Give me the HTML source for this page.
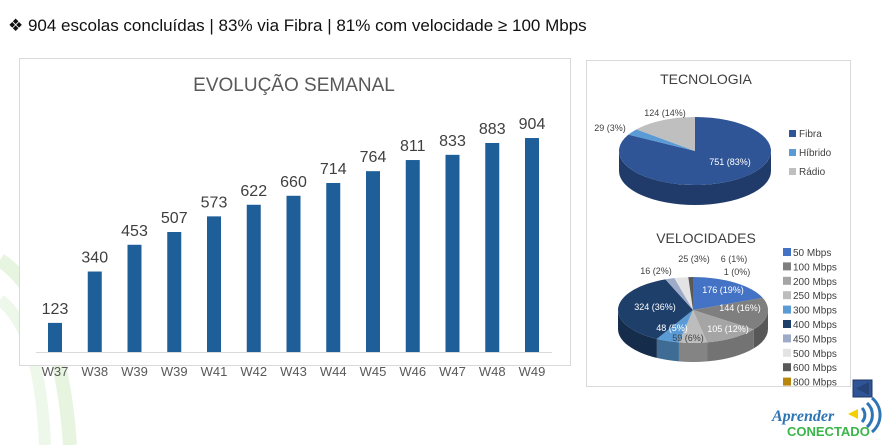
<!DOCTYPE html>
<html><head><meta charset="utf-8"><style>
body{margin:0;width:887px;height:445px;background:#fff;overflow:hidden;font-family:"Liberation Sans",sans-serif;position:relative}
.t{position:absolute;left:8px;top:16px;font-size:17px;color:#111}
</style></head><body>
<div class="t">❖ 904 escolas concluídas | 83% via Fibra | 81% com velocidade ≥ 100 Mbps</div>
<svg id="s" width="887" height="445" style="position:absolute;left:0;top:0" font-family="Liberation Sans, sans-serif">
<path d="M0 260 Q60 300 70 445" stroke="#e6f4e0" stroke-width="14" fill="none"/>
<path d="M0 300 Q40 330 45 445" stroke="#eef8ea" stroke-width="12" fill="none"/>
<rect x="19.5" y="58.5" width="551" height="307" fill="#fff" stroke="#d9d9d9"/>
<text x="294" y="91" font-size="19" fill="#595959" text-anchor="middle">EVOLUÇÃO SEMANAL</text>
<line x1="36" y1="352.5" x2="552" y2="352.5" stroke="#d9d9d9"/>
<rect x="586.5" y="60.5" width="264" height="326" fill="#fff" stroke="#d9d9d9"/>
<text x="706" y="84" font-size="14" fill="#404040" text-anchor="middle">TECNOLOGIA</text>
<text x="706" y="243" font-size="14" fill="#404040" text-anchor="middle">VELOCIDADES</text>
<g id="g"></g>
<rect x="853" y="380" width="19" height="17" fill="#2f5597" stroke="#1f3864"/>
<path d="M856 388.5 L869 382 L869 395 Z" fill="#264478"/>
<text x="772" y="421" font-size="16" font-style="italic" font-weight="bold" fill="#2e75b6" font-family="Liberation Serif, serif">Aprender</text>
<text x="787" y="436" font-size="13" font-weight="bold" fill="#3bb54a">CONECTADO</text>
<path d="M848 414 l10 -5 v10 z" fill="#f5d000"/>
<path d="M862 408 a10 10 0 0 1 0 14 M867 403 a16 16 0 0 1 0 24 M872 398 a22 22 0 0 1 0 34" stroke="#2e75b6" stroke-width="3" fill="none"/>
</svg>
<script>
var g=document.getElementById('g'),h='';
var labs=['W37','W38','W39','W39','W41','W42','W43','W44','W45','W46','W47','W48','W49'];
var v=[123,340,453,507,573,622,660,714,764,811,833,883,904];
for(var i=0;i<13;i++){var cx=55+i*39.75,hh=v[i]*0.2367;
h+='<rect x="'+(cx-7)+'" y="'+(352-hh)+'" width="14" height="'+hh+'" fill="#1f5f99"/>';
h+='<text x="'+cx+'" y="'+(352-hh-9)+'" font-size="16" fill="#404040" text-anchor="middle">'+v[i]+'</text>';
h+='<text x="'+cx+'" y="376" font-size="13" fill="#595959" text-anchor="middle">'+labs[i]+'</text>';}
function P(cx,cy,rx,ry,a){a=a*Math.PI/180;return [cx+rx*Math.sin(a),cy-ry*Math.cos(a)];}
function dk(c,f){var n=parseInt(c.slice(1),16);var r=(n>>16)*f|0,gg=((n>>8)&255)*f|0,b=(n&255)*f|0;return 'rgb('+r+','+gg+','+b+')';}
function pie(cx,cy,rx,ry,d,sl){var a=0,arr=[];sl.forEach(function(s){arr.push([a,a+s[0]*3.6,s[1]]);a+=s[0]*3.6;});
arr.forEach(function(s){var a1=Math.max(s[0],90),a2=Math.min(s[1],270);if(a2<=a1)return;
var p1=P(cx,cy,rx,ry,a1),p2=P(cx,cy,rx,ry,a2);
h+='<path d="M'+p1+' A'+rx+' '+ry+' 0 0 1 '+p2+' L'+p2[0]+' '+(p2[1]+d)+' A'+rx+' '+ry+' 0 0 0 '+p1[0]+' '+(p1[1]+d)+' Z" fill="'+dk(s[2],0.7)+'"/>';});
arr.forEach(function(s){var p1=P(cx,cy,rx,ry,s[0]),p2=P(cx,cy,rx,ry,s[1]);var lg=(s[1]-s[0])>180?1:0;
h+='<path d="M'+cx+' '+cy+' L'+p1+' A'+rx+' '+ry+' 0 '+lg+' 1 '+p2+' Z" fill="'+s[2]+'"/>';});}
pie(695,151,76,34,20,[[83,'#2f5597'],[3,'#5b9bd5'],[14,'#bfbfbf']]);
pie(693,310,75,33,19,[[19,'#4472c4'],[16,'#7f7f7f'],[12,'#a5a5a5'],[6,'#bdbdbd'],[5,'#5b9bd5'],[36,'#1f3f6b'],[2,'#9dabc8'],[3,'#e3e3e3'],[1,'#595959'],[0.01,'#b8860b']]);
function t(x,y,s,c,a,f){h+='<text x="'+x+'" y="'+y+'" font-size="'+(f||9)+'" fill="'+(c||'#404040')+'" text-anchor="'+(a||'start')+'">'+s+'</text>';}
t(730,165,'751 (83%)','#fff','middle');t(665,116,'124 (14%)','#404040','middle');t(610,131,'29 (3%)','#404040','middle');
t(723,293,'176 (19%)','#fff','middle');t(740,311,'144 (16%)','#fff','middle');t(728,332,'105 (12%)','#fff','middle');
t(655,310,'324 (36%)','#fff','middle');t(672,331,'48 (5%)','#fff','middle');t(688,341,'59 (6%)','#404040','middle');
t(656,274,'16 (2%)','#404040','middle');t(694,262,'25 (3%)','#404040','middle');t(734,262,'6 (1%)','#404040','middle');t(737,275,'1 (0%)','#404040','middle');
var L=[['Fibra','#2f5597'],['Híbrido','#5b9bd5'],['Rádio','#bfbfbf']];
L.forEach(function(l,i){h+='<rect x="789" y="'+(130+i*19)+'" width="7" height="7" fill="'+l[1]+'"/>';t(799,137+i*19,l[0],'#404040','start',10);});
var V=[['50 Mbps','#4472c4'],['100 Mbps','#7f7f7f'],['200 Mbps','#a5a5a5'],['250 Mbps','#bdbdbd'],['300 Mbps','#5b9bd5'],['400 Mbps','#1f3f6b'],['450 Mbps','#9dabc8'],['500 Mbps','#e3e3e3'],['600 Mbps','#595959'],['800 Mbps','#b8860b']];
V.forEach(function(l,i){h+='<rect x="783" y="'+(248+i*14.4)+'" width="8" height="8" fill="'+l[1]+'"/>';t(793,256+i*14.4,l[0],'#404040','start',10);});
g.innerHTML=h;
</script>
</body></html>
